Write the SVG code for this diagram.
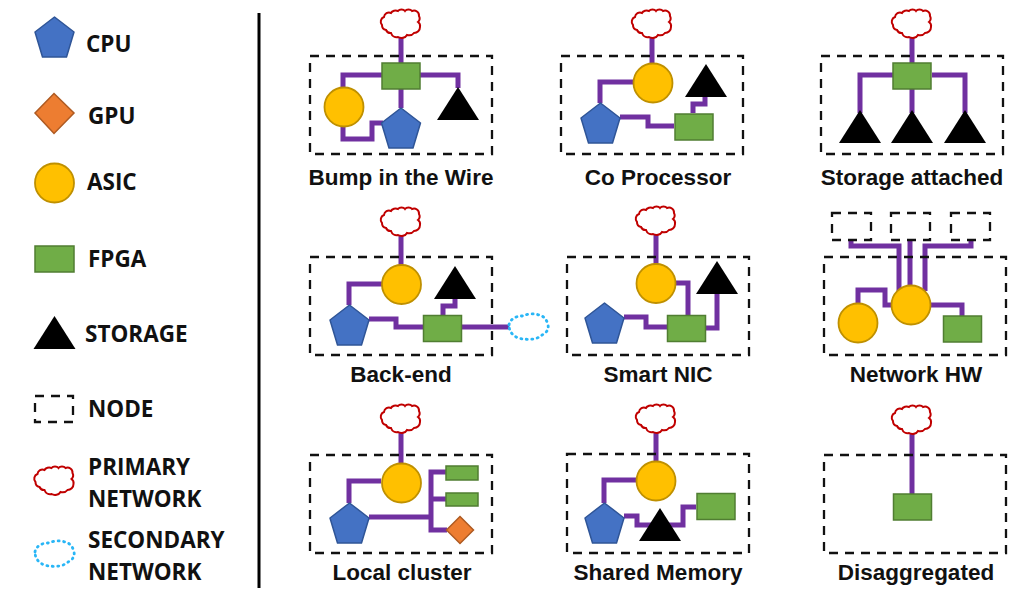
<svg xmlns="http://www.w3.org/2000/svg" width="1024" height="604" viewBox="0 0 1024 604">
<style>
.lbl{font:bold 22.5px "Liberation Sans",Arial,sans-serif;fill:#111;text-anchor:middle}
.leg{font:bold 22.500px "Open Sans","Noto Sans",sans-serif;fill:#111}
.box{fill:none;stroke:#111;stroke-width:2.300;stroke-dasharray:9 7}
.cpu{fill:#4472c4;stroke:#2f5597;stroke-width:1.5;stroke-linejoin:round}
.gpu{fill:#ed7d31;stroke:#ae5a21;stroke-width:1.5}
.asic{fill:#ffc000;stroke:#bf9000;stroke-width:1.8}
.fpga{fill:#70ad47;stroke:#507e32;stroke-width:1.5}
.pri{fill:#fff;stroke:#c00000;stroke-width:2}
.sec{fill:#fff;stroke:#29b6f6;stroke-width:2.8;stroke-linecap:round;stroke-dasharray:1 4.500}
#connectors path{fill:none;stroke:#7030a0;stroke-width:5}
</style>
<defs>
<polygon id="pent" class="cpu" points="0,0 19.5,15 12,40 -12,40 -19.5,15"/>
<polygon id="tri" fill="#000" points="0,0 21,33 -21,33"/>
<rect id="rect" class="fpga" x="-19" y="-13" width="38" height="26"/>
<circle id="circ" class="asic" r="19.5"/>
<path id="cloud" class="pri" d="M-17,-7A5,5 0 0 1-10,-11A5,4 0 0 1-3,-13A4,3 0 0 1 4,-13A4,3 0 0 1 11,-13A5,5 0 0 1 18,-8A5,5 0 0 1 17,-2A5,5 0 0 1 19,3A6,6 0 0 1 13,9A6,5 0 0 1 6,11A6,5 0 0 1-3,13A6,6 0 0 1-10,9A5,5 0 0 1-15,6A5,5 0 0 1-19,1A5,5 0 0 1-17,-7Z"/>
<path id="scloud" class="sec" d="M-19,-2C-18,-8-12,-11-6,-11C-1,-13 6,-14 11,-12C16,-11 19,-7 20,-2C21,3 18,6 14,8C10,12 2,13-4,12C-10,12-19,8-19,-2Z"/>
</defs>
<path id="divider" d="M259,13V588" stroke="#000" stroke-width="3" fill="none"/>
<g id="connectors">
<path d="M401,37V63M382,75H343V88M420,75H458V88M401,89V108M343,126V139H372V123H383"/>
<path d="M652,37V64M633,82H600V103M620,117H648V126H674M693,113V104H705V97"/>
<path d="M912,37V63M893,75H860V113M912,89V113M932,75H965V113"/>
<path d="M401,235V265M382,284H349V305M369,319H396V327H423M443,315V306H455V299M462,327H509"/>
<path d="M656,234V264M676,283H688V315M706,328H717V294M624,317H646V327H667"/>
<path d="M851,239V246H899V291M910,240V286M971,239V246H925V291M858,304V290H885V305H892M931,305H962V316"/>
<path d="M401,432V464M381,481H349V503M369,517H431M446,472H431V530H447M431,499H446"/>
<path d="M656,432V462M637,480H604V503M624,516H637V525H683V507H696"/>
<path d="M912,433V494"/>
</g>
<g id="legend-cpu"><use href="#pent" x="54.500" y="17"/><text class="leg" x="86" y="52">CPU</text></g>
<g id="legend-gpu"><polygon class="gpu" points="54,93.500 74,113 54,133.500 35,113"/><text class="leg" x="88" y="124">GPU</text></g>
<g id="legend-asic"><use href="#circ" x="54.500" y="183"/><text class="leg" x="87" y="190">ASIC</text></g>
<g id="legend-fpga"><rect class="fpga" x="35" y="246" width="39" height="26"/><text class="leg" x="88" y="267">FPGA</text></g>
<g id="legend-storage"><use href="#tri" x="54.500" y="316"/><text class="leg" x="85" y="342">STORAGE</text></g>
<g id="legend-node"><rect class="box" x="35" y="396" width="38" height="26"/><text class="leg" x="88" y="417">NODE</text></g>
<g id="legend-primary"><use href="#cloud" x="54.500" y="481"/><text class="leg" x="88" y="475">PRIMARY</text><text class="leg" x="88" y="507">NETWORK</text></g>
<g id="legend-secondary"><use href="#scloud" x="54" y="554"/><text class="leg" x="88" y="548">SECONDARY</text><text class="leg" x="88" y="580">NETWORK</text></g>

<g id="bump"><rect class="box" x="310" y="56" width="182" height="98"/><text class="lbl" x="401" y="185">Bump in the Wire</text></g>
<g id="bump-cloud"><use href="#cloud" x="401" y="24"/></g>
<g id="bump-fpga"><use href="#rect" x="401" y="76"/></g>
<g id="bump-asic"><use href="#circ" x="344" y="107"/></g>
<g id="bump-cpu"><use href="#pent" x="401" y="108"/></g>
<g id="bump-storage"><use href="#tri" x="458" y="87"/></g>

<g id="co"><rect class="box" x="561" y="56" width="182" height="98"/><text class="lbl" x="658" y="185">Co Processor</text></g>
<g id="co-cloud"><use href="#cloud" x="652" y="24"/></g>
<g id="co-asic"><use href="#circ" x="653" y="83"/></g>
<g id="co-storage"><use href="#tri" x="706" y="64"/></g>
<g id="co-cpu"><use href="#pent" x="600.500" y="103"/></g>
<g id="co-fpga"><use href="#rect" x="694" y="127"/></g>

<g id="storage"><rect class="box" x="821" y="56" width="182" height="98"/><text class="lbl" x="912" y="185">Storage attached</text></g>
<g id="storage-cloud"><use href="#cloud" x="912" y="24"/></g>
<g id="storage-fpga"><use href="#rect" x="912" y="76"/></g>
<g id="storage-s1"><use href="#tri" x="860" y="110"/></g>
<g id="storage-s2"><use href="#tri" x="912" y="110"/></g>
<g id="storage-s3"><use href="#tri" x="965" y="110"/></g>

<g id="backend"><rect class="box" x="310" y="257" width="182" height="98"/><text class="lbl" x="401" y="382">Back-end</text></g>
<g id="backend-cloud"><use href="#cloud" x="401" y="222"/></g>
<g id="backend-asic"><use href="#circ" x="401.500" y="284.500"/></g>
<g id="backend-storage"><use href="#tri" x="455" y="266"/></g>
<g id="backend-cpu"><use href="#pent" x="349.500" y="305"/></g>
<g id="backend-fpga"><use href="#rect" x="442.500" y="328.500"/></g>
<g id="backend-secondary"><use href="#scloud" x="528" y="327"/></g>

<g id="nic"><rect class="box" x="567" y="257" width="182" height="98"/><text class="lbl" x="658" y="382">Smart NIC</text></g>
<g id="nic-cloud"><use href="#cloud" x="656" y="221"/></g>
<g id="nic-asic"><use href="#circ" x="656" y="283.500"/></g>
<g id="nic-storage"><use href="#tri" x="717" y="261"/></g>
<g id="nic-cpu"><use href="#pent" x="604.500" y="303"/></g>
<g id="nic-fpga"><use href="#rect" x="686.500" y="328.500"/></g>

<g id="nethw"><rect class="box" x="824" y="257" width="182" height="98"/><text class="lbl" x="916" y="382">Network HW</text></g>
<g id="nethw-n1"><rect class="box" x="832" y="213" width="39" height="27"/></g>
<g id="nethw-n2"><rect class="box" x="891" y="213" width="39" height="27"/></g>
<g id="nethw-n3"><rect class="box" x="951" y="213" width="39" height="27"/></g>
<g id="nethw-a1"><use href="#circ" x="858" y="323"/></g>
<g id="nethw-a2"><use href="#circ" x="911" y="305"/></g>
<g id="nethw-fpga"><use href="#rect" x="962.500" y="329"/></g>

<g id="local"><rect class="box" x="310" y="455" width="182" height="98"/><text class="lbl" x="402" y="580">Local cluster</text></g>
<g id="local-cloud"><use href="#cloud" x="401" y="419"/></g>
<g id="local-asic"><use href="#circ" x="401.500" y="483"/></g>
<g id="local-cpu"><use href="#pent" x="349.500" y="503"/></g>
<g id="local-f1"><rect class="fpga" x="446" y="466" width="32" height="14"/></g>
<g id="local-f2"><rect class="fpga" x="446" y="493" width="32" height="13"/></g>
<g id="local-gpu"><polygon class="gpu" points="460,516.500 473.500,530 460,543.500 446.500,530"/></g>

<g id="shared"><rect class="box" x="567" y="454" width="182" height="99"/><text class="lbl" x="658" y="580">Shared Memory</text></g>
<g id="shared-cloud"><use href="#cloud" x="656" y="419"/></g>
<g id="shared-asic"><use href="#circ" x="656" y="481"/></g>
<g id="shared-cpu"><use href="#pent" x="604.500" y="503"/></g>
<g id="shared-storage"><use href="#tri" x="660" y="508"/></g>
<g id="shared-fpga"><use href="#rect" x="716" y="506.500"/></g>

<g id="disagg"><rect class="box" x="824" y="455" width="182" height="98"/><text class="lbl" x="916" y="580">Disaggregated</text></g>
<g id="disagg-cloud"><use href="#cloud" x="912" y="420"/></g>
<g id="disagg-fpga"><use href="#rect" x="912.500" y="507"/></g>
</svg>
